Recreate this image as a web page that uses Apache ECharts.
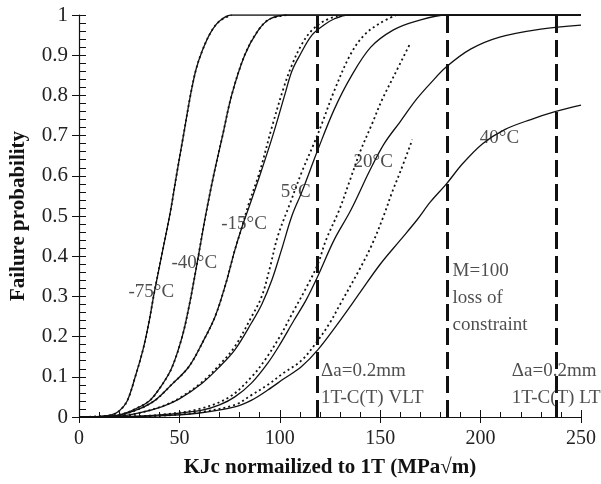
<!DOCTYPE html>
<html>
<head>
<meta charset="utf-8">
<script src="https://cdn.jsdelivr.net/npm/echarts@6/dist/echarts.min.js"></script>
<style>
    html, body { margin: 0; padding: 0; background: #fff; }
    #chart { width: 601px; height: 484px; }
</style>
</head>
<body>
<div id="chart"></div>
<script>
// Failure probability vs KJc, [KJc, P] pairs
// solid = simulated, dotted = fitted
const solidM75 = [[0, 0], [10, 0.001], [16, 0.005], [20, 0.015], [24, 0.04], [28, 0.1], [32, 0.17], [35, 0.24], [37.5, 0.31], [41.5, 0.41], [45.5, 0.51], [48.5, 0.6], [52, 0.7], [55.5, 0.8], [58.3, 0.865], [61.3, 0.91], [65.4, 0.955], [70, 0.985], [76, 1], [250, 1]];
const solidM40 = [[0, 0], [15, 0.002], [22, 0.008], [28, 0.02], [35, 0.04], [40, 0.07], [46, 0.12], [51.4, 0.2], [55, 0.28], [58, 0.36], [60.5, 0.43], [63, 0.5], [67, 0.6], [71.5, 0.7], [76, 0.8], [82.5, 0.9], [89, 0.96], [95, 0.99], [104, 1], [250, 1]];
const solidM15 = [[0, 0], [15, 0.002], [20, 0.004], [30, 0.02], [38, 0.042], [46, 0.08], [54.7, 0.125], [62, 0.19], [67.8, 0.25], [73, 0.33], [77.6, 0.415], [81, 0.47], [84.5, 0.52], [90, 0.6], [96.5, 0.7], [102.4, 0.8], [106, 0.86], [110, 0.9], [116, 0.95], [122, 0.975], [127, 0.99], [134, 1], [250, 1]];
const solidP5 = [[0, 0], [20, 0.002], [30, 0.01], [41.5, 0.026], [50, 0.045], [61.3, 0.084], [70, 0.125], [77.6, 0.167], [86, 0.235], [91, 0.28], [96, 0.34], [100.8, 0.415], [106, 0.5], [111, 0.56], [118.9, 0.664], [127, 0.764], [135.4, 0.846], [145.3, 0.92], [156.6, 0.963], [168, 0.985], [183, 1], [250, 1]];
const solidP20 = [[0, 0], [30, 0.002], [45, 0.007], [61.3, 0.017], [70, 0.03], [77.6, 0.05], [86, 0.085], [94, 0.134], [100, 0.18], [107, 0.24], [113, 0.29], [118.9, 0.35], [127, 0.44], [135.4, 0.515], [145, 0.615], [152, 0.68], [160, 0.735], [168, 0.79], [175, 0.83], [183, 0.871], [195, 0.915], [209.5, 0.945], [230, 0.965], [250, 0.975]];
const solidP40 = [[0, 0], [40, 0.003], [60, 0.01], [77.6, 0.025], [86, 0.042], [94, 0.067], [102, 0.095], [110.7, 0.125], [118.9, 0.167], [130, 0.24], [140, 0.31], [150, 0.38], [160, 0.44], [168.3, 0.49], [175, 0.535], [183, 0.58], [191, 0.63], [201, 0.68], [212, 0.715], [225, 0.74], [237.5, 0.76], [250, 0.776]];

const dotM75 = [[0, 0], [10, 0.001], [16, 0.005], [20, 0.015], [24, 0.04], [28, 0.1], [32, 0.17], [35, 0.24], [37.5, 0.31], [41.5, 0.41], [45.5, 0.51], [48.5, 0.6], [52, 0.7], [55.5, 0.8], [58.3, 0.865], [61.3, 0.91], [65.4, 0.955], [70, 0.985], [76, 1]];
const dotM40 = [[0, 0], [15, 0.002], [22, 0.008], [28, 0.02], [35, 0.04], [40, 0.07], [46, 0.12], [51.4, 0.2], [55, 0.28], [58, 0.36], [60.5, 0.43], [63, 0.5], [67, 0.6], [71.5, 0.7], [76, 0.8], [82.5, 0.9], [89, 0.96], [95, 0.99], [104, 1]];
const dotM15 = [[0, 0], [15, 0.002], [20, 0.004], [30, 0.02], [38, 0.042], [46, 0.08], [54.7, 0.125], [62, 0.19], [67.8, 0.25], [73, 0.33], [77.6, 0.415], [81, 0.47], [84.5, 0.53], [90, 0.61], [96, 0.72], [102, 0.82], [106, 0.875], [110.7, 0.925], [115.6, 0.96], [122, 0.985], [130, 1]];
const dotP5 = [[0, 0], [20, 0.002], [30, 0.01], [41.5, 0.027], [50, 0.047], [61.3, 0.087], [70, 0.13], [77.6, 0.175], [86, 0.25], [91, 0.3], [95, 0.37], [99, 0.45], [105, 0.53], [111, 0.61], [117, 0.68], [121, 0.73], [127, 0.81], [135, 0.9], [142, 0.95], [150, 0.98], [158, 1]];
const dotP20 = [[0, 0], [30, 0.002], [45, 0.008], [60, 0.02], [75, 0.05], [86, 0.1], [92.6, 0.142], [100, 0.2], [107, 0.265], [113, 0.32], [118.9, 0.38], [123, 0.44], [129.6, 0.515], [135, 0.59], [140, 0.66], [146, 0.73], [151, 0.79], [157, 0.85], [165, 0.93]];
const dotP40 = [[0, 0], [40, 0.003], [60, 0.012], [77.6, 0.03], [86, 0.055], [94, 0.08], [102, 0.11], [110.7, 0.14], [118.9, 0.19], [125, 0.235], [130, 0.28], [140, 0.37], [146, 0.43], [151.7, 0.5], [156, 0.56], [160, 0.61], [166, 0.69]];

// vertical limit lines (KJc)
const limitLines = [118.5, 183.5, 237.5];

// text annotations, anchored in data coordinates
const tempLabels = [
    { text: '-75°C', at: [36, 0.31] },
    { text: '-40°C', at: [57.4, 0.383] },
    { text: '-15°C', at: [82.2, 0.48] },
    { text: '5°C', at: [107.9, 0.56] },
    { text: '20°C', at: [146.5, 0.634] },
    { text: '40°C', at: [209.4, 0.694] }
];
const noteLabels = [
    { text: 'M=100\nloss of\nconstraint', at: [186.3, 0.395] },
    { text: 'Δa=0.2mm\n1T-C(T) VLT', at: [120.8, 0.147] },
    { text: 'Δa=0.2mm\n1T-C(T) LT', at: [215.8, 0.147] }
];

const serif = "'Liberation Serif', 'Times New Roman', serif";
const ink = '#111';

function solidLine(data) {
    return {
        type: 'line',
        data: data,
        symbol: 'none',
        smooth: 0.35,
        lineStyle: { color: ink, width: 1.3 },
        z: 3,
        silent: true
    };
}

function dottedLine(data) {
    return {
        type: 'line',
        data: data,
        symbol: 'none',
        smooth: 0.35,
        lineStyle: { color: ink, width: 1.8, type: [2, 3] },
        z: 4,
        silent: true
    };
}

const chart = echarts.init(document.getElementById('chart'));

const series = [
    solidLine(solidM75), solidLine(solidM40), solidLine(solidM15),
    solidLine(solidP5), solidLine(solidP20), solidLine(solidP40),
    dottedLine(dotM75), dottedLine(dotM40), dottedLine(dotM15),
    dottedLine(dotP5), dottedLine(dotP20), dottedLine(dotP40)
];

// dashed vertical lines
series[0].markLine = {
    silent: true,
    symbol: ['none', 'none'],
    label: { show: false },
    lineStyle: { color: ink, width: 3, type: [17, 7] },
    data: limitLines.map(x => ({ xAxis: x }))
};

// temperature labels, centred on the anchor
series.push({
    type: 'scatter',
    symbolSize: 1,
    itemStyle: { color: 'rgba(0,0,0,0)' },
    silent: true,
    z: 6,
    data: tempLabels.map(d => ({ value: d.at, name: d.text })),
    label: {
        show: true,
        position: 'inside',
        formatter: '{b}',
        fontFamily: serif,
        fontSize: 19,
        color: '#222'
    }
});

// multi-line notes, top-left anchored
series.push({
    type: 'scatter',
    symbolSize: 1,
    itemStyle: { color: 'rgba(0,0,0,0)' },
    silent: true,
    z: 6,
    data: noteLabels.map(d => ({ value: d.at, name: d.text })),
    label: {
        show: true,
        position: [0, 0],
        align: 'left',
        verticalAlign: 'top',
        formatter: '{b}',
        fontFamily: serif,
        fontSize: 19,
        lineHeight: 27,
        color: '#222'
    }
});

const option = {
    animation: false,
    backgroundColor: '#fff',
    grid: { left: 76, right: 20, top: 15, bottom: 67 },
    xAxis: [
        {
            type: 'value',
            position: 'bottom',
            min: 0,
            max: 250,
            interval: 50,
            axisLine: { lineStyle: { color: ink, width: 1.2 } },
            axisTick: { inside: true, length: 7, lineStyle: { color: ink } },
            minorTick: { show: true, splitNumber: 5, length: 5, lineStyle: { color: ink } },
            splitLine: { show: false },
            axisLabel: { fontFamily: serif, fontSize: 20, color: '#222', margin: 12 },
            name: 'KJc normailized to 1T (MPa√m)',
            nameLocation: 'middle',
            nameGap: 40,
            nameTextStyle: { fontFamily: serif, fontSize: 21, fontWeight: 'bold', color: ink }
        },
        {
            type: 'value',
            position: 'bottom',
            offset: 0,
            min: 0,
            max: 250,
            interval: 50,
            axisLine: { show: false },
            axisTick: { inside: false, length: 6, lineStyle: { color: ink } },
            axisLabel: { show: false },
            splitLine: { show: false }
        }
    ],
    yAxis: [
        {
            type: 'value',
            position: 'left',
            min: 0,
            max: 1,
            interval: 0.1,
            axisLine: { show: true, lineStyle: { color: ink, width: 1.2 } },
            axisTick: { show: true, inside: true, length: 7, lineStyle: { color: ink } },
            minorTick: { show: true, splitNumber: 5, length: 7, lineStyle: { color: ink } },
            splitLine: { show: false },
            axisLabel: { fontFamily: serif, fontSize: 21, color: '#222', margin: 11 },
            name: 'Failure probability',
            nameLocation: 'middle',
            nameGap: 50,
            nameTextStyle: { fontFamily: serif, fontSize: 21, fontWeight: 'bold', color: ink }
        },
        {
            type: 'value',
            position: 'left',
            offset: 0,
            min: 0,
            max: 1,
            interval: 0.1,
            axisLine: { show: false },
            axisTick: { show: true, inside: false, length: 7, lineStyle: { color: ink } },
            axisLabel: { show: false },
            splitLine: { show: false }
        }
    ],
    series: series
};

chart.setOption(option);
</script>
</body>
</html>
